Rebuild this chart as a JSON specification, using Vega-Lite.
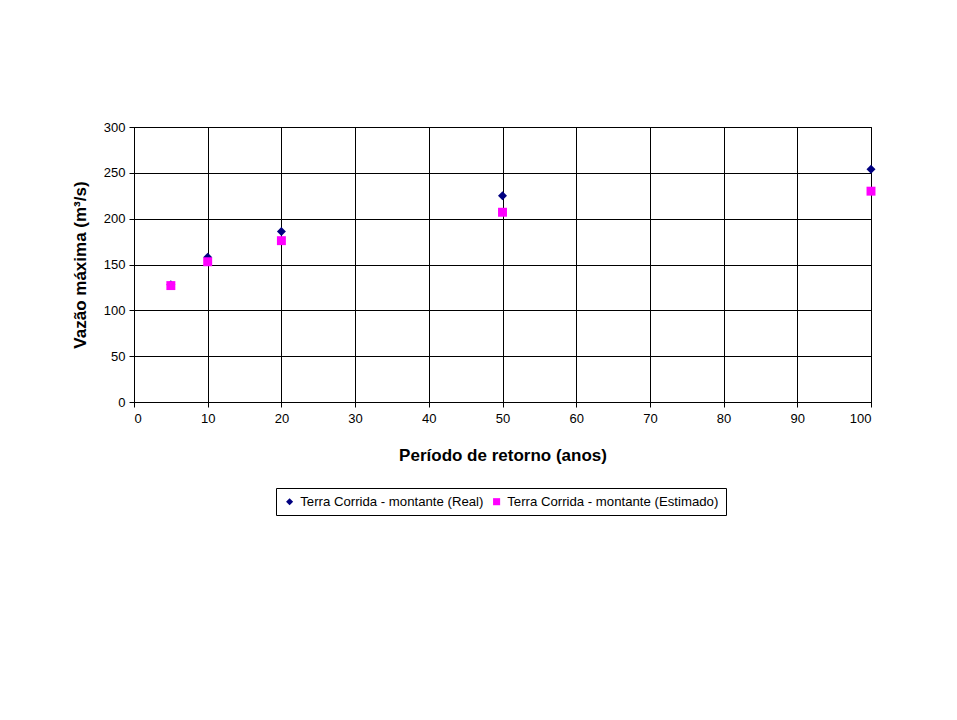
{
  "$schema": "https://vega.github.io/schema/vega-lite/v6.json",
  "width": 737,
  "height": 275,
  "autosize": {"type": "none"},
  "padding": {"left": 134, "top": 127, "right": 86, "bottom": 318},
  "background": "white",
  "data": {
    "values": [
      {"periodo": 5, "vazao": 128, "serie": "Terra Corrida - montante (Real)"},
      {"periodo": 10, "vazao": 158, "serie": "Terra Corrida - montante (Real)"},
      {"periodo": 20, "vazao": 186, "serie": "Terra Corrida - montante (Real)"},
      {"periodo": 50, "vazao": 225, "serie": "Terra Corrida - montante (Real)"},
      {"periodo": 100, "vazao": 254, "serie": "Terra Corrida - montante (Real)"},
      {"periodo": 5, "vazao": 127, "serie": "Terra Corrida - montante (Estimado)"},
      {"periodo": 10, "vazao": 153, "serie": "Terra Corrida - montante (Estimado)"},
      {"periodo": 20, "vazao": 176, "serie": "Terra Corrida - montante (Estimado)"},
      {"periodo": 50, "vazao": 207, "serie": "Terra Corrida - montante (Estimado)"},
      {"periodo": 100, "vazao": 230, "serie": "Terra Corrida - montante (Estimado)"}
    ]
  },
  "mark": {"type": "point", "filled": true, "opacity": 1, "size": 80},
  "encoding": {
    "x": {
      "field": "periodo",
      "type": "quantitative",
      "scale": {"domain": [0, 100], "nice": false},
      "axis": {
        "title": "Período de retorno (anos)",
        "values": [0, 10, 20, 30, 40, 50, 60, 70, 80, 90, 100],
        "labelPadding": 5,
        "titlePadding": 22
      }
    },
    "y": {
      "field": "vazao",
      "type": "quantitative",
      "scale": {"domain": [0, 300], "nice": false},
      "axis": {
        "title": "Vazão máxima (m³/s)",
        "values": [0, 50, 100, 150, 200, 250, 300],
        "labelPadding": 4,
        "titlePadding": 14
      }
    },
    "color": {
      "field": "serie",
      "type": "nominal",
      "sort": ["Terra Corrida - montante (Real)", "Terra Corrida - montante (Estimado)"],
      "scale": {
        "domain": ["Terra Corrida - montante (Real)", "Terra Corrida - montante (Estimado)"],
        "range": ["#000080", "#FF00FF"]
      },
      "legend": {
        "title": null,
        "orient": "none",
        "direction": "horizontal",
        "legendX": 142,
        "legendY": 361,
        "strokeColor": "black",
        "padding": 7,
        "columnPadding": 6,
        "symbolSize": 50,
        "labelFontSize": 13.2,
        "labelLimit": 0,
        "labelFont": "Liberation Sans",
        "labelColor": "black",
        "symbolOpacity": 1
      }
    },
    "shape": {
      "field": "serie",
      "type": "nominal",
      "scale": {
        "domain": ["Terra Corrida - montante (Real)", "Terra Corrida - montante (Estimado)"],
        "range": ["diamond", "square"]
      },
      "legend": null
    }
  },
  "config": {
    "view": {"stroke": "black", "strokeWidth": 1},
    "axis": {
      "grid": true,
      "gridColor": "black",
      "gridOpacity": 1,
      "gridWidth": 1,
      "domainColor": "black",
      "domainWidth": 1,
      "tickColor": "black",
      "tickSize": 5,
      "labelFont": "Liberation Sans",
      "labelFontSize": 13,
      "labelColor": "black",
      "titleFont": "Liberation Sans",
      "titleFontSize": 17,
      "titleFontWeight": "bold",
      "titleColor": "black"
    }
  }
}
